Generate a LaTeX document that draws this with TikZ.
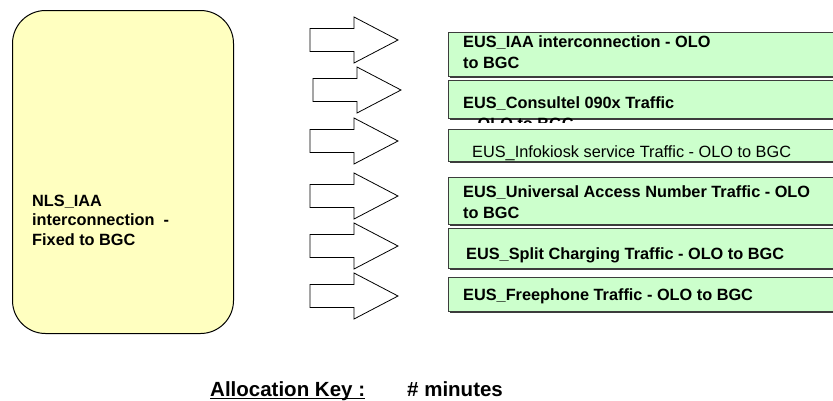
\documentclass[tikz,border=0pt]{standalone}
\usepackage{fontspec}
\setmainfont{Liberation Sans}
\usetikzlibrary{shadows}
\definecolor{keyyellow}{RGB}{255,255,192}
\definecolor{flowgreen}{RGB}{204,255,204}
\definecolor{edgegray}{RGB}{60,60,60}

\begin{document}
\begin{tikzpicture}[x=1pt, y=-1pt,
  source/.style={rectangle, rounded corners=33pt, draw=black, fill=keyyellow, line width=1pt,
    minimum width=221pt, minimum height=323pt, anchor=north west},
  flow/.style={rectangle, draw=edgegray, fill=flowgreen, line width=1pt, inner sep=0pt,
    minimum width=420pt, minimum height=#1, anchor=north west,
    drop shadow={shadow xshift=1.3pt, shadow yshift=-1.3pt, fill=edgegray, opacity=1}},
  flowtext/.style={anchor=base west, inner sep=0pt, align=left,
    font=\fontsize{16.3}{21}\selectfont\bfseries},
  blockarrow/.pic={\draw[black, fill=white, line width=0.8pt]
    (0,-11.5) -- (44,-11.5) -- (44,-23) -- (88,0) -- (44,23) -- (44,11.5) -- (0,11.5) -- cycle;}
]
\useasboundingbox (0,0) rectangle (833,400);
\clip (0,0) rectangle (833,400);

% source
\node[source] (nls) at (12,10) {};
\node[flowtext, font=\fontsize{16.3}{19.2}\selectfont\bfseries] (nlstext) at (32,245)
  {NLS\_IAA\\interconnection~ -\\Fixed to BGC};

% block arrows
\pic at (310,40) {blockarrow};
\pic at (313,90) {blockarrow};
\pic at (310,141) {blockarrow};
\pic at (310,196) {blockarrow};
\pic at (310,246) {blockarrow};
\pic at (310,296) {blockarrow};

% allocated flows
\node[flow=44pt] (iaa) at (448,32) {};
\node[flow=38pt] (consultel) at (448,80) {};
\node[flow=32pt] (infokiosk) at (448,129) {};
\node[flow=47pt] (uan) at (448,177) {};
\node[flow=40pt] (split) at (448,228) {};
\node[flow=34pt] (freephone) at (448,277) {};

\node[flowtext] (iaatext) at (463,68) {EUS\_IAA interconnection - OLO\\to BGC};
\node[flowtext] (consulteltext) at (463,108) {EUS\_Consultel 090x Traffic};
\begin{scope}
  \clip (448,100) rectangle (833,122);
  \node[flowtext] (consultelrest) at (467.5,129) {- OLO to BGC};
\end{scope}
\node[flowtext, font=\fontsize{16.3}{21}\selectfont] (infokiosktext) at (472,157)
  {EUS\_Infokiosk service Traffic - OLO to BGC};
\node[flowtext] (uantext) at (463,218) {EUS\_Universal Access Number Traffic - OLO\\to BGC};
\node[flowtext] (splittext) at (466,259) {EUS\_Split Charging Traffic - OLO to BGC};
\node[flowtext] (freephonetext) at (463,300) {EUS\_Freephone Traffic - OLO to BGC};

% allocation key
\node[flowtext, font=\fontsize{20.5}{24}\selectfont\bfseries] (alloc) at (210,396) {Allocation Key :};
\node[flowtext, font=\fontsize{20.5}{24}\selectfont\bfseries] (minutes) at (407,396) {\# minutes};
\draw[line width=1.4pt] ([yshift=-2.5pt]alloc.base west) -- ([yshift=-2.5pt]alloc.base east);
\end{tikzpicture}
\end{document}
